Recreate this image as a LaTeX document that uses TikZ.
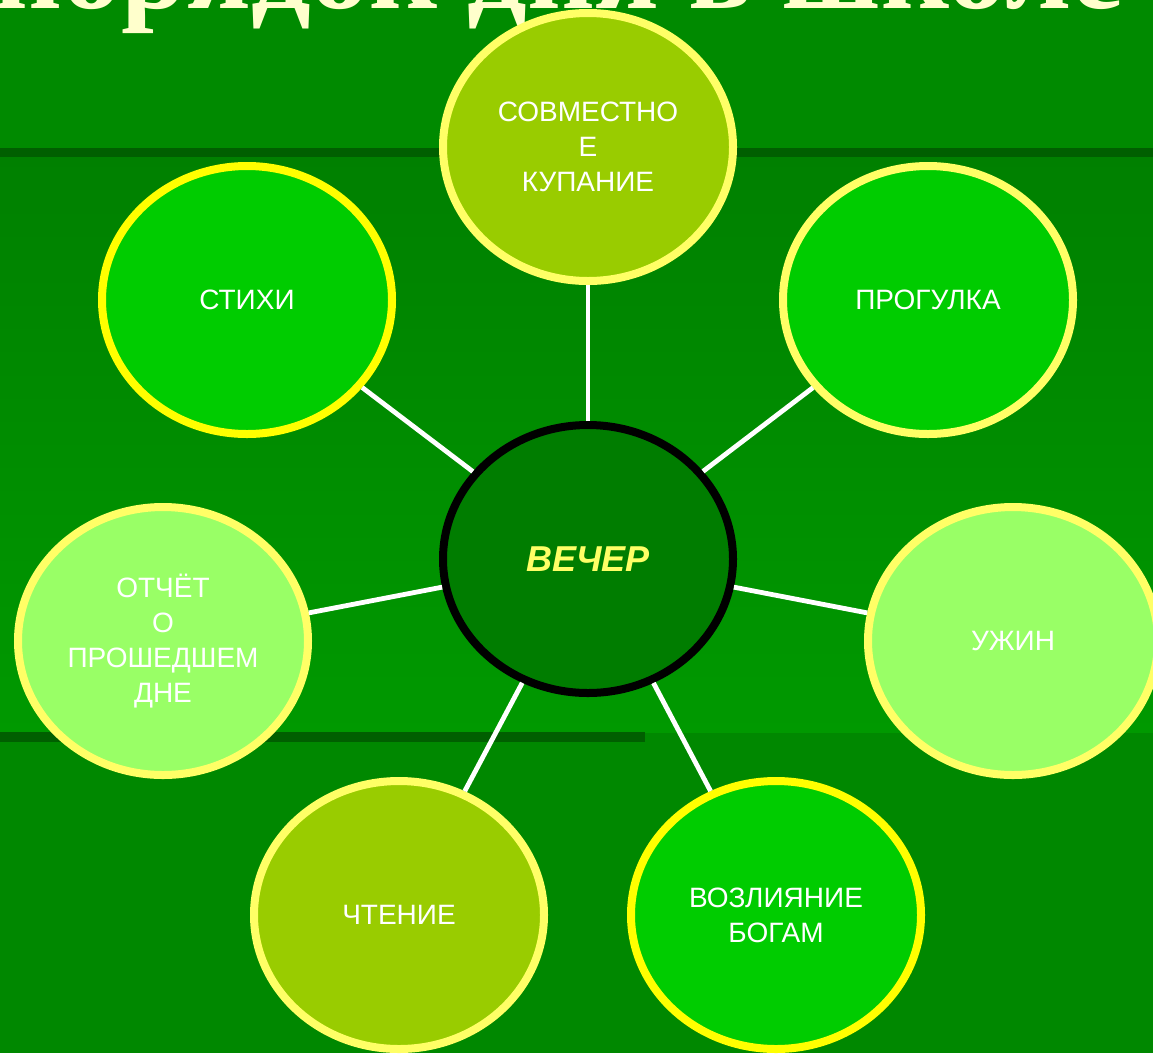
\documentclass[tikz,border=0pt]{standalone}
\usepackage{fontspec}
\setmainfont{Liberation Sans}
\newfontfamily\titlefont{Liberation Serif}
\usetikzlibrary{shapes.geometric}
\definecolor{bgtop}{RGB}{0,138,0}
\definecolor{bgmidA}{RGB}{0,128,0}
\definecolor{bgmidB}{RGB}{0,153,0}
\definecolor{bgbot}{RGB}{0,136,0}
\definecolor{stripe}{RGB}{0,95,0}
\definecolor{olive}{RGB}{153,204,0}
\definecolor{bright}{RGB}{0,204,0}
\definecolor{pale}{RGB}{153,255,102}
\definecolor{ring}{RGB}{255,255,102}
\definecolor{ringY}{RGB}{255,255,0}
\definecolor{core}{RGB}{0,125,0}
\definecolor{titlec}{RGB}{255,255,204}
\tikzset{
  bubble/.style={ellipse, inner sep=0pt, minimum width=290pt, minimum height=268pt,
    line width=8pt, text=white, align=center, font=\fontsize{28}{35}\selectfont},
  link/.style={draw=white, line width=4.8pt},
}
\begin{document}
\begin{tikzpicture}[x=1pt,y=-1pt]
\useasboundingbox (0,0) rectangle (1153,1053);
% background
\fill[bgtop] (0,0) rectangle (1153,150);
\shade[top color=bgmidA, bottom color=bgmidB] (0,155) rectangle (1153,734);
\fill[bgbot] (0,733) rectangle (1153,1053);
\fill[stripe] (0,148) rectangle (1153,157);
\fill[stripe] (0,732) rectangle (645,742);
% title
\node[anchor=base east, inner sep=0pt, text=titlec,
  font=\titlefont\bfseries\fontsize{118}{130}\selectfont] (title) at (1124,8) {порядок дня в школе};
% bubbles
\node[bubble, fill=olive, draw=ring] (swim) at (588,147) {СОВМЕСТНО\\Е\\КУПАНИЕ};
\node[bubble, fill=bright, draw=ringY] (poems) at (247,300) {СТИХИ};
\node[bubble, fill=bright, draw=ring] (walk) at (928,300) {ПРОГУЛКА};
\node[bubble, fill=pale, draw=ring] (report) at (163,641) {ОТЧЁТ\\О\\ПРОШЕДШЕМ\\ДНЕ};
\node[bubble, fill=pale, draw=ring] (supper) at (1013,641) {УЖИН};
\node[bubble, fill=olive, draw=ring] (read) at (399,915) {ЧТЕНИЕ};
\node[bubble, fill=bright, draw=ringY] (libation) at (776,915) {ВОЗЛИЯНИЕ\\БОГАМ};
\node[bubble, fill=core, draw=black, text=ring,
  font=\fontsize{36}{43}\selectfont\bfseries\itshape] (evening) at (588,559) {ВЕЧЕР};
% connectors
\foreach \t in {swim,poems,walk,report,supper,read,libation}
  \draw[link] (evening) -- (\t);
\end{tikzpicture}
\end{document}
